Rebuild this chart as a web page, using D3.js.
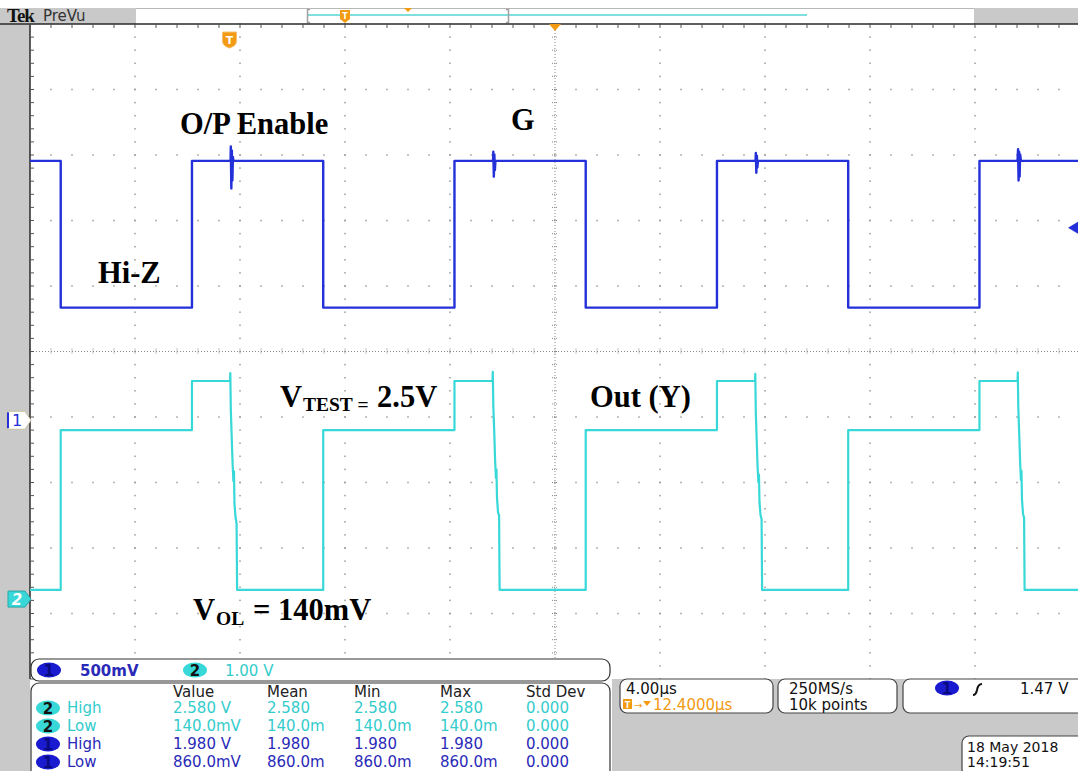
<!DOCTYPE html>
<html>
<head>
<meta charset="utf-8">
<script src="https://cdn.jsdelivr.net/npm/d3@7"></script>
<style>
  body { margin: 0; background: #ffffff; }
  svg { display: block; }
</style>
</head>
<body>
<svg id="scope" width="1078" height="771"></svg>
<script>
// ---- Acquisition settings ------------------------------------------------
const timePerDiv = 4;          // µs / div
const ch1VoltsPerDiv = 0.5;    // V / div
const ch2VoltsPerDiv = 1.0;    // V / div
const ch1Position = -1.05;     // div (ground reference marker)
const ch2Position = -3.78;     // div
const triggerLevel = 1.47;     // V, channel 1 rising edge

// ---- Channel 1 : G (enable input), [time µs from screen centre, volts] ----
const ch1Trace = [
  [-20, 1.98], [-18.83, 1.98], [-18.83, 0.86], [-13.83, 0.86], [-13.83, 1.98],
  [-12.36, 1.98], [-12.35, 2.09], [-12.33, 1.77], [-12.31, 2.06], [-12.29, 1.83], [-12.27, 2.01], [-12.25, 1.98],
  [-8.83, 1.98], [-8.83, 0.86], [-3.83, 0.86], [-3.83, 1.98],
  [-2.36, 1.98], [-2.35, 2.05], [-2.33, 1.86], [-2.31, 2.03], [-2.29, 1.91], [-2.27, 1.98],
  [1.17, 1.98], [1.17, 0.86], [6.17, 0.86], [6.17, 1.98],
  [7.64, 1.98], [7.65, 2.04], [7.67, 1.89], [7.69, 2.02], [7.71, 1.93], [7.73, 1.98],
  [11.17, 1.98], [11.17, 0.86], [16.17, 0.86], [16.17, 1.98],
  [17.62, 1.98], [17.64, 2.07], [17.66, 1.83], [17.68, 2.05], [17.70, 1.86], [17.72, 2.03], [17.75, 1.98],
  [20, 1.98]
];

// ---- Channel 2 : Out (Y), [time µs from screen centre, volts] ------------
const ch2Trace = [
  [-20, 0.14], [-18.83, 0.14], [-18.83, 2.58], [-13.83, 2.58], [-13.83, 3.33],
  [-12.38, 3.33], [-12.37, 3.45], [-12.35, 2.90], [-12.31, 2.40], [-12.28, 2.05], [-12.25, 1.80],
  [-12.23, 1.95], [-12.21, 1.45], [-12.17, 1.25], [-12.13, 1.15], [-12.11, 0.14],
  [-8.83, 0.14], [-8.83, 2.58], [-3.83, 2.58], [-3.83, 3.33],
  [-2.38, 3.33], [-2.37, 3.47], [-2.35, 2.95], [-2.31, 2.50], [-2.28, 2.10], [-2.25, 1.85],
  [-2.23, 1.98], [-2.21, 1.55], [-2.17, 1.32], [-2.13, 1.28], [-2.11, 0.14],
  [1.17, 0.14], [1.17, 2.58], [6.17, 2.58], [6.17, 3.33],
  [7.62, 3.33], [7.63, 3.44], [7.65, 2.85], [7.69, 2.35], [7.72, 2.00], [7.75, 1.78],
  [7.77, 1.90], [7.79, 1.48], [7.83, 1.28], [7.87, 1.22], [7.89, 0.14],
  [11.17, 0.14], [11.17, 2.58], [16.17, 2.58], [16.17, 3.33],
  [17.62, 3.33], [17.63, 3.46], [17.65, 2.92], [17.69, 2.45], [17.72, 2.08], [17.75, 1.82],
  [17.77, 1.96], [17.79, 1.52], [17.83, 1.30], [17.87, 1.24], [17.89, 0.14],
  [20, 0.14]
];

// ---- Measurement readout --------------------------------------------------
const measHeaders = ["Value", "Mean", "Min", "Max", "Std Dev"];
const measRows = [
  { ch: 2, name: "High", values: ["2.580 V", "2.580", "2.580", "2.580", "0.000"] },
  { ch: 2, name: "Low",  values: ["140.0mV", "140.0m", "140.0m", "140.0m", "0.000"] },
  { ch: 1, name: "High", values: ["1.980 V", "1.980", "1.980", "1.980", "0.000"] },
  { ch: 1, name: "Low",  values: ["860.0mV", "860.0m", "860.0m", "860.0m", "0.000"] }
];

// ---- Layout ---------------------------------------------------------------
const W = 1078, H = 771;
const gLeft = 30, gRight = 1080, gTop = 24, gBottom = 679;
const ch1Color = "#2430d8", ch2Color = "#38d8d8";
const ch1Text = "#2a2ab8", ch2Text = "#34cccc";
const orange = "#f29a12";
const panelGrey = "#c9c9c9";
const uiFont = "'DejaVu Sans', Verdana, sans-serif";
const noteFont = "'Liberation Serif', 'Times New Roman', serif";
const noteSize = 30.5;

const svg = d3.select("#scope");

const divX = d3.scaleLinear().domain([-5, 5]).range([gLeft, gRight]);
const divY = d3.scaleLinear().domain([-5, 5]).range([gBottom, gTop]);
const x = d3.scaleLinear().domain([-5 * timePerDiv, 5 * timePerDiv]).range([gLeft, gRight]);
const y1 = d3.scaleLinear()
  .domain([(-5 - ch1Position) * ch1VoltsPerDiv, (5 - ch1Position) * ch1VoltsPerDiv])
  .range([gBottom, gTop]);
const y2 = d3.scaleLinear()
  .domain([(-5 - ch2Position) * ch2VoltsPerDiv, (5 - ch2Position) * ch2VoltsPerDiv])
  .range([gBottom, gTop]);

// ---- Background panels ----------------------------------------------------
svg.append("rect").attr("x", 0).attr("y", 0).attr("width", W).attr("height", H).attr("fill", "#ffffff");
svg.append("rect").attr("x", 0).attr("y", gTop).attr("width", gLeft).attr("height", H - gTop).attr("fill", panelGrey);
svg.append("rect").attr("x", 612).attr("y", gBottom).attr("width", W - 612).attr("height", H - gBottom).attr("fill", panelGrey);

// top status bar
svg.append("rect").attr("x", 0).attr("y", 8).attr("width", 136).attr("height", 16).attr("fill", panelGrey);
svg.append("rect").attr("x", 974).attr("y", 8).attr("width", W - 974).attr("height", 16).attr("fill", panelGrey);
svg.append("line").attr("x1", 136).attr("x2", 974).attr("y1", 8.5).attr("y2", 8.5).attr("stroke", "#b8b8b8");
svg.append("text").attr("x", 7).attr("y", 22).attr("font-family", noteFont).attr("font-weight", "bold")
  .attr("font-size", 19).attr("fill", "#111").attr("letter-spacing", -1).text("Tek");
svg.append("text").attr("x", 43).attr("y", 21).attr("font-family", uiFont)
  .attr("font-size", 15).attr("fill", "#333").text("PreVu");

// record view
svg.append("line").attr("x1", 307).attr("x2", 807).attr("y1", 15).attr("y2", 15)
  .attr("stroke", "#7fdede").attr("stroke-width", 2);
svg.append("path").attr("d", "M310,9.5 H307.5 V22.5 H310").attr("fill", "none").attr("stroke", "#a0a0a0").attr("stroke-width", 1.5);
svg.append("path").attr("d", "M506,9.5 H508.5 V22.5 H506").attr("fill", "none").attr("stroke", "#a0a0a0").attr("stroke-width", 1.5);
svg.append("path").attr("d", "M340,10 H350 V19 L345,23 L340,19 Z").attr("fill", orange);
svg.append("text").attr("x", 345).attr("y", 19).attr("text-anchor", "middle").attr("font-family", uiFont)
  .attr("font-size", 8).attr("font-weight", "bold").attr("fill", "#fff").text("T");
svg.append("path").attr("d", "M404,8 H412 L408,12 Z").attr("fill", orange);

// ---- Graticule ------------------------------------------------------------
const grat = svg.append("g");
grat.append("rect").attr("x", gLeft).attr("y", gTop).attr("width", gRight - gLeft).attr("height", gBottom - gTop).attr("fill", "#ffffff");

const minor = d3.range(0, 51).map(i => -5 + i * 0.2);
const majorInner = [-4, -3, -2, -1, 1, 2, 3, 4];
const dotColor = "#9a9a9a";

// dots along major verticals (one per minor vertical step)
majorInner.forEach(d => {
  minor.forEach(m => {
    grat.append("rect").attr("x", divX(d) - 0.75).attr("y", divY(m) - 0.75)
      .attr("width", 1.5).attr("height", 1.5).attr("fill", dotColor);
  });
});
// dots along major horizontals (one per minor horizontal step)
majorInner.forEach(d => {
  minor.forEach(m => {
    grat.append("rect").attr("x", divX(m) - 0.75).attr("y", divY(d) - 0.75)
      .attr("width", 1.5).attr("height", 1.5).attr("fill", dotColor);
  });
});

// centre cross: fine dotted lines with minor ticks
const cx = divX(0), cy = divY(0);
grat.append("line").attr("x1", gLeft).attr("x2", gRight).attr("y1", cy).attr("y2", cy)
  .attr("stroke", "#8a8a8a").attr("stroke-dasharray", "1,2");
grat.append("line").attr("x1", cx).attr("x2", cx).attr("y1", gTop).attr("y2", gBottom)
  .attr("stroke", "#8a8a8a").attr("stroke-dasharray", "1,2");
minor.forEach(m => {
  grat.append("line").attr("x1", divX(m)).attr("x2", divX(m)).attr("y1", cy - 3).attr("y2", cy + 3)
    .attr("stroke", "#8a8a8a").attr("stroke-dasharray", "1,1");
  grat.append("line").attr("x1", cx - 3).attr("x2", cx + 3).attr("y1", divY(m)).attr("y2", divY(m))
    .attr("stroke", "#8a8a8a").attr("stroke-dasharray", "1,1");
});

// frame edges with ticks
grat.append("line").attr("x1", gLeft).attr("x2", gLeft).attr("y1", gTop).attr("y2", gBottom)
  .attr("stroke", "#2a2a2a").attr("stroke-width", 1.5);
grat.append("line").attr("x1", 0).attr("x2", W).attr("y1", gTop).attr("y2", gTop)
  .attr("stroke", "#2a2a2a").attr("stroke-width", 1.5);
minor.forEach(m => {
  grat.append("line").attr("x1", gLeft).attr("x2", gLeft + 4).attr("y1", divY(m)).attr("y2", divY(m))
    .attr("stroke", "#555");
  grat.append("line").attr("x1", divX(m)).attr("x2", divX(m)).attr("y1", gTop).attr("y2", gTop + 4)
    .attr("stroke", "#555");
});

// ---- Traces ---------------------------------------------------------------
svg.append("clipPath").attr("id", "screen").append("rect")
  .attr("x", gLeft).attr("y", gTop).attr("width", gRight - gLeft).attr("height", gBottom - gTop);

const line1 = d3.line().x(d => x(d[0])).y(d => y1(d[1]));
const line2 = d3.line().x(d => x(d[0])).y(d => y2(d[1]));

svg.append("path").datum(ch1Trace).attr("clip-path", "url(#screen)")
  .attr("d", line1).attr("fill", "none").attr("stroke", ch1Color).attr("stroke-width", 2.4)
  .attr("stroke-linejoin", "round");
svg.append("path").datum(ch2Trace).attr("clip-path", "url(#screen)")
  .attr("d", line2).attr("fill", "none").attr("stroke", ch2Color).attr("stroke-width", 2.2)
  .attr("stroke-linejoin", "round");

// ---- Markers --------------------------------------------------------------
// trigger point in the waveform ("T") and horizontal position marker
const trigX = x(-12.4);
svg.append("path").attr("d", `M${trigX - 7},32 H${trigX + 7} V41 Q${trigX + 7},46 ${trigX},48 Q${trigX - 7},46 ${trigX - 7},41 Z`)
  .attr("fill", orange).attr("stroke", "#f7c070").attr("stroke-width", 1);
svg.append("text").attr("x", trigX).attr("y", 44).attr("text-anchor", "middle").attr("font-family", uiFont)
  .attr("font-weight", "bold").attr("font-size", 11).attr("fill", "#fff").text("T");
svg.append("path").attr("d", `M${cx - 6},${gTop} H${cx + 6} L${cx},${gTop + 7} Z`).attr("fill", orange);

// channel ground markers
const g1 = y1(0), g2 = y2(0);
svg.append("path").attr("d", `M7,${g1 - 9} H25 L31,${g1} L25,${g1 + 9} H7 Z`)
  .attr("fill", "#ffffff").attr("stroke", "#c8c0a0").attr("stroke-width", 1);
svg.append("rect").attr("x", 7).attr("y", g1 - 8).attr("width", 2).attr("height", 16).attr("fill", ch1Color);
svg.append("text").attr("x", 17).attr("y", g1 + 6).attr("text-anchor", "middle").attr("font-family", uiFont)
  .attr("font-size", 16).attr("fill", ch1Color).text("1");
svg.append("path").attr("d", `M8,${g2 - 8} H25 L31,${g2} L25,${g2 + 8} H8 Z`)
  .attr("fill", ch2Color).attr("stroke", "#2aa8a8").attr("stroke-width", 1);
svg.append("text").attr("x", 17).attr("y", g2 + 6).attr("text-anchor", "middle").attr("font-family", uiFont)
  .attr("font-size", 15).attr("font-style", "italic").attr("font-weight", "bold").attr("fill", "#ffffff").text("2");

// trigger level marker (channel 1)
const tl = y1(triggerLevel);
svg.append("path").attr("d", `M1068,${tl} L1078,${tl - 6} L1078,${tl + 6} Z`).attr("fill", ch1Color);

// ---- Text annotations -----------------------------------------------------
const note = (tx, ty, str) => svg.append("text").attr("x", tx).attr("y", ty)
  .attr("font-family", noteFont).attr("font-weight", "bold").attr("font-size", noteSize)
  .attr("fill", "#000").text(str);
note(180, 134, "O/P Enable");
note(511, 130, "G");
note(98, 283, "Hi-Z");
note(590, 407, "Out (Y)");

const vtest = svg.append("text").attr("y", 407).attr("font-family", noteFont)
  .attr("font-weight", "bold").attr("font-size", noteSize).attr("fill", "#000");
vtest.append("tspan").attr("x", 280).text("V");
vtest.append("tspan").attr("x", 303).attr("dy", 4).attr("font-size", 19.5).text("TEST =");
vtest.append("tspan").attr("x", 377).attr("dy", -4).text("2.5V");

const vol = svg.append("text").attr("y", 620).attr("font-family", noteFont)
  .attr("font-weight", "bold").attr("font-size", noteSize).attr("fill", "#000");
vol.append("tspan").attr("x", 193).text("V");
vol.append("tspan").attr("x", 216).attr("dy", 5).attr("font-size", 19.5).text("OL");
vol.append("tspan").attr("x", 253).attr("dy", -5).text("= 140mV");

// ---- Readout panels -------------------------------------------------------
const badge = (cxB, cyB, ch) => {
  svg.append("ellipse").attr("cx", cxB).attr("cy", cyB).attr("rx", 12).attr("ry", 7.5)
    .attr("fill", ch === 1 ? "#1a1ad0" : ch2Color);
  svg.append("text").attr("x", cxB).attr("y", cyB + 5.5).attr("text-anchor", "middle")
    .attr("font-family", uiFont).attr("font-weight", "bold").attr("font-size", 15)
    .attr("fill", ch === 1 ? "#0a0a80" : "#111").text(ch);
};
const uiText = (tx, ty, str, color, size) => svg.append("text").attr("x", tx).attr("y", ty)
  .attr("font-family", uiFont).attr("font-size", size || 15).attr("fill", color).text(str);

// vertical scale box
svg.append("rect").attr("x", 31).attr("y", 659).attr("width", 579).attr("height", 22).attr("rx", 8)
  .attr("fill", "#fff").attr("stroke", "#333").attr("stroke-width", 1.2);
badge(49, 670, 1);
uiText(80, 676, ch1VoltsPerDiv * 1000 + "mV", ch1Text, 15).attr("font-weight", "bold");
badge(195, 670, 2);
uiText(225, 676, ch2VoltsPerDiv.toFixed(2) + " V", ch2Text, 15);

// measurement table
svg.append("rect").attr("x", 31).attr("y", 683).attr("width", 579).attr("height", 100).attr("rx", 8)
  .attr("fill", "#fff").attr("stroke", "#333").attr("stroke-width", 1.2);
const colX = [173, 267, 354, 440, 526];
measHeaders.forEach((h, i) => uiText(colX[i], 697, h, "#222", 15));
measRows.forEach((r, i) => {
  const ry = 713 + i * 18;
  const col = r.ch === 1 ? ch1Text : ch2Text;
  badge(48, ry - 5, r.ch);
  uiText(67, ry, r.name, col, 15);
  r.values.forEach((v, j) => uiText(colX[j], ry, v, col, 15));
});

// timebase box
const panel = (px, py, pw, ph) => svg.append("rect").attr("x", px).attr("y", py).attr("width", pw)
  .attr("height", ph).attr("rx", 7).attr("fill", "#fff").attr("stroke", "#444").attr("stroke-width", 1.2);
panel(620, 679, 153, 34);
uiText(626, 694, timePerDiv.toFixed(2) + "µs", "#111", 15);
svg.append("rect").attr("x", 623).attr("y", 699).attr("width", 9).attr("height", 10).attr("fill", orange);
svg.append("text").attr("x", 627.5).attr("y", 708).attr("text-anchor", "middle").attr("font-family", uiFont)
  .attr("font-size", 8).attr("font-weight", "bold").attr("fill", "#fff").text("T");
uiText(634, 709, "→", orange, 10);
svg.append("path").attr("d", "M643,701 H651 L647,706 Z").attr("fill", orange);
uiText(653, 710, "12.4000µs", orange, 15);

// sample rate box
panel(778, 679, 119, 34);
uiText(789, 694, "250MS/s", "#111", 15);
uiText(789, 710, "10k points", "#111", 15);

// trigger box
panel(903, 679, 185, 34);
badge(947, 688, 1);
svg.append("path").attr("d", "M973,695 Q976,695 977,690 Q978,684 982,684").attr("fill", "none")
  .attr("stroke", "#111").attr("stroke-width", 2);
uiText(1020, 694, triggerLevel.toFixed(2) + " V", "#111", 15);

// date box
panel(962, 736, 130, 40);
uiText(967, 752, "18 May 2018", "#111", 14);
uiText(967, 767, "14:19:51", "#111", 14);
</script>
</body>
</html>
